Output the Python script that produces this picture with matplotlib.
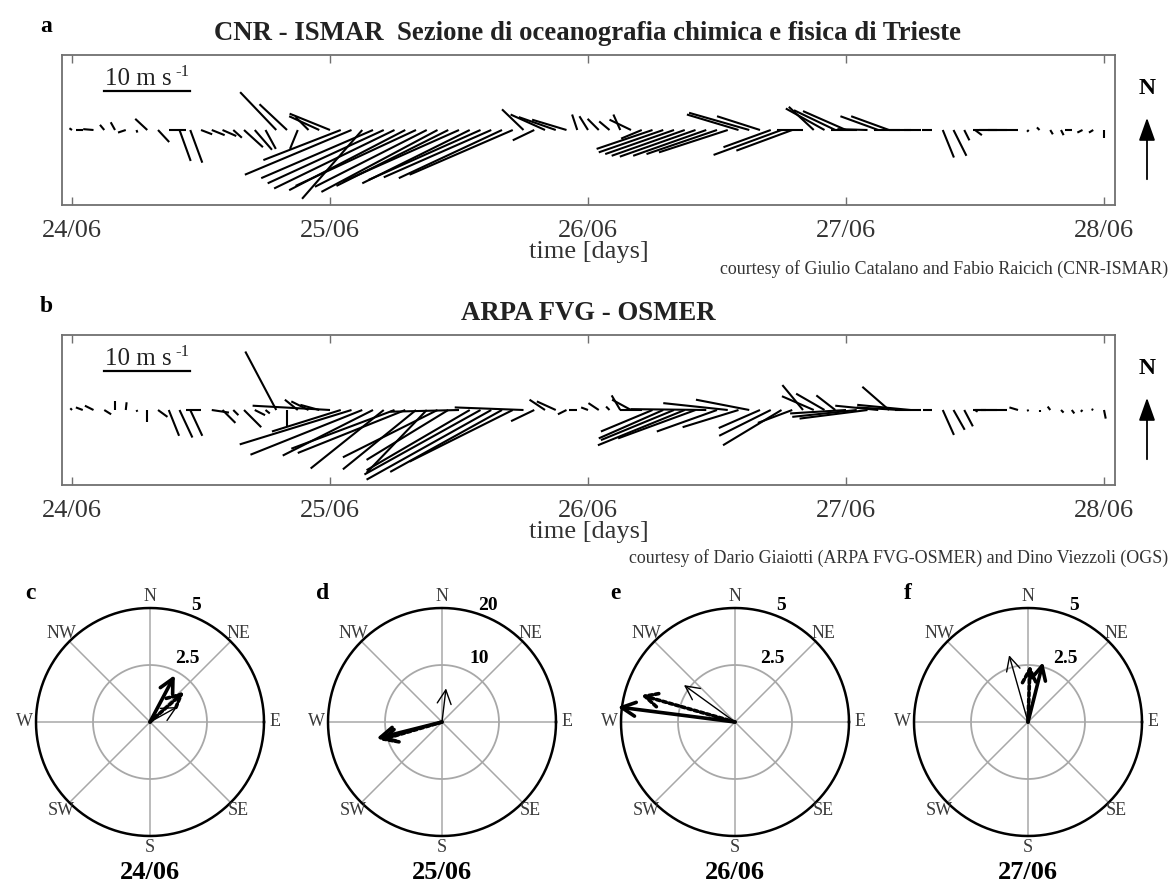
import numpy as np
import matplotlib
matplotlib.use("Agg")
import matplotlib.pyplot as plt
from matplotlib.collections import LineCollection

plt.rcParams['font.family'] = ['Liberation Serif', 'DejaVu Serif']

# hourly wind vectors (m/s, direction the wind blows toward), 24/06 00h -> 28/06 00h
hours = np.arange(97)
u_a = [-0.3, -0.8, -1.2, -0.5, -0.5, -0.9, 0.1, -1.4, 1.3, 2.0, 1.3, 1.4,
       1.3, 1.5, 1.6, 1.0, 2.2, 2.0, 1.2, -4.2, -3.2, -0.9, -1.5, -3.5,
       -4.7, -9.0, -12.4, -7.0, -13.0, -13.5, -14.0, -13.5, -14.0, -13.0, -13.5, -13.0,
       -13.5, -12.5, -13.0, -12.5, -12.0, -12.0, -2.5, -2.5, -4.0, -4.3, -4.0, -0.6,
       -1.0, -1.3, -1.2, -0.8, -2.5, -2.4, -6.5, -7.5, -8.0, -8.5, -8.8, -8.5,
       -8.2, -8.0, -6.0, -7.0, -5.0, -5.5, -7.9, -6.5, -3.0, -2.9, -4.5, -4.8,
       -5.0, -3.0, -3.5, -4.4, -4.4, -3.0, -2.5, -2.0, -1.2, 1.3, 1.5, 0.6,
       0.8, -1.5, -2.0, -2.5, -3.5, -0.2, -0.3, 0.3, 0.3, -0.8, -0.6, -0.5, 0.0]
v_a = [0.2, 0.0, 0.1, 0.6, 0.9, -0.3, -0.3, 1.3, -1.4, 0.0, -3.6, -3.8,
       -0.5, -0.6, -0.7, -0.9, -2.0, -2.3, -2.2, 4.4, 3.0, -2.2, 1.5, 1.6,
       1.9, -3.5, -5.2, -8.0, -5.6, -6.2, -6.8, -7.0, -6.5, -6.6, -7.2, -6.5,
       -6.0, -6.2, -5.8, -5.5, -5.6, -5.2, 2.4, -1.2, 1.8, 1.5, 1.2, 1.8,
       1.6, 1.3, 1.0, 1.8, 1.2, -1.0, -2.2, -2.6, -2.8, -3.0, -3.1, -3.0,
       -2.8, -2.6, 1.8, 2.0, 1.6, -2.0, -2.9, -2.4, 0.0, 2.7, 2.5, 2.3,
       2.2, 0.0, 0.1, 1.6, 1.6, 0.0, 0.0, 0.0, 0.0, -3.2, -3.0, -1.2,
       -0.6, 0.0, 0.0, 0.0, 0.0, -0.2, 0.3, -0.5, -0.6, 0.0, -0.3, -0.3, -0.9]
u_b = [-0.2, -0.8, -1.0, 0.8, 0.0, 0.1, 0.1, 0.0, 1.1, 1.2, 1.5, 1.4,
       -1.7, 2.0, 1.5, 0.6, 2.0, 1.2, 0.5, -3.6, 0.0, -1.5, -2.0, -2.2,
       -9.0, -8.0, -13.0, -13.0, -10.5, -8.5, -12.0, -12.5, -8.5, -7.0, -11.0, -9.5,
       -8.0, -12.0, -13.5, -14.5, -13.0, -12.0, -8.0, -2.7, -1.8, -2.2, -1.0, -1.0,
       -0.8, -1.2, -0.4, -1.0, -2.2, -2.5, -6.0, -7.5, -8.5, -10.1, -9.0, -8.8,
       -7.0, -7.5, -6.5, -6.2, -4.8, -6.0, -6.8, -4.0, -2.4, -3.7, -3.3, -2.2,
       -6.5, -7.5, -7.9, -5.0, -3.1, -5.0, -6.2, -3.0, -1.0, 1.3, 1.3, 1.0,
       0.3, -1.5, -2.5, -3.0, -1.0, -0.2, 0.0, -0.3, 0.3, 0.3, -0.2, -0.2, 0.2]
v_b = [0.2, 0.3, 0.5, -0.5, 1.0, 0.9, -0.2, -1.4, -0.8, -3.0, -3.2, -3.0,
       0.0, -0.3, -1.5, -0.6, -2.0, -0.6, -0.4, 6.8, -1.9, 1.2, 1.0, 0.6,
       0.5, -2.5, -4.0, -5.2, -5.3, -6.8, -4.5, -5.0, -6.9, -7.3, -5.5, -5.8,
       -0.2, -7.0, -7.5, -8.1, -7.2, -6.0, 0.3, -1.3, 1.2, 1.0, -0.5, 0.0,
       0.3, 0.8, 0.4, 1.7, 1.2, 0.0, -2.5, -3.3, -3.5, -4.1, -3.3, 0.1,
       -2.5, 0.8, -2.0, 1.2, -2.1, -3.0, -4.1, -1.5, 2.9, 1.6, 1.9, 1.7,
       -0.4, -0.8, -1.0, 0.5, 2.7, 0.3, 0.6, 0.0, 0.0, -2.9, -2.3, -1.9,
       -0.2, 0.0, 0.0, 0.0, 0.3, -0.1, -0.2, 0.4, -0.3, -0.4, -0.2, 0.1, -1.0]

day_labels = ['24/06', '25/06', '26/06', '27/06', '28/06']

# daily mean vectors for the compass plots (thick solid, thick dotted, thin)
compass_dates = ['24/06', '25/06', '26/06', '27/06']
compass_letters = ['c', 'd', 'e', 'f']
compass_max = [5, 20, 5, 5]
u_solid = [1.09, -11.5, -5.15, 0.66]
v_solid = [2.06, -2.9, 0.66, 2.63]
u_dot = [1.50, -10.9, -4.12, 0.09]
v_dot = [1.33, -3.2, 1.18, 2.50]
u_thin = [1.19, 0.7, -2.24, -0.83]
v_thin = [0.66, 5.9, 1.62, 2.93]

W, H = 1175, 886
fig = plt.figure(figsize=(W / 100, H / 100), dpi=100)
GRAY = '#707070'
K = 1 / 30.0  # days per m/s so that sticks keep true angles


def px_axes(x0, y0, x1, y1):
    return fig.add_axes([x0 / W, 1 - y1 / H, (x1 - x0) / W, (y1 - y0) / H])


def stick_panel(top, letter, title, courtesy, court_dy, u, v):
    ax = px_axes(62, top, 1115, top + 150)
    t = hours / 24.0
    segs = [[(ti, 0), (ti + ui * K, vi)] for ti, ui, vi in zip(t, u, v)]
    ax.add_collection(LineCollection(segs, colors='k', linewidths=1.5))
    ax.set_xlim(-0.0388, 4.0426)
    ax.set_ylim(-8.72, 8.72)
    ax.set_xticks(range(5))
    ax.set_xticklabels(day_labels)
    ax.set_yticks([])
    ax.tick_params(axis='x', direction='in', top=True, length=6, width=1,
                   color=GRAY, labelsize=19, labelcolor='#333333', pad=11)
    for s in ax.spines.values():
        s.set_color(GRAY)
        s.set_linewidth(1.3)
    ax.set_xlabel('time [days]', fontsize=19, color='#333333', labelpad=-1)
    # scale bar
    ax.plot([0.124, 0.124 + 10 * K], [4.53, 4.53], color='k', lw=1.6)
    ax.text(0.128, 5.2, '10 m s', fontsize=18, color='#222222', va='baseline')
    ax.text(0.402, 6.3, '-1', fontsize=12, color='#222222', va='baseline')
    fig.text(46 / W, 1 - (top - 28) / H, letter, fontsize=17, fontweight='bold',
             ha='center', va='center')
    fig.text(588 / W, 1 - (top - 21) / H, title, fontsize=19.3, fontweight='bold',
             ha='center', va='center', color='#222222')
    fig.text(1168 / W, 1 - (top + court_dy) / H, courtesy, fontsize=12.85,
             ha='right', va='center', color='#333333')
    # north arrow
    fig.text(1147 / W, 1 - (top + 33) / H, 'N', fontsize=17, fontweight='bold',
             ha='center', va='center')
    fig.add_artist(matplotlib.patches.FancyArrowPatch(
        (1147 / W, 1 - (top + 127) / H), (1147 / W, 1 - (top + 60) / H),
        transform=fig.transFigure, arrowstyle='-|>,head_length=0.7,head_width=0.25',
        mutation_scale=20, color='k', lw=1.3))


stick_panel(55, 'a', 'CNR - ISMAR  Sezione di oceanografia chimica e fisica di Trieste',
            'courtesy of Giulio Catalano and Fabio Raicich (CNR-ISMAR)', 214, u_a, v_a)
stick_panel(335, 'b', 'ARPA FVG - OSMER',
            'courtesy of Dario Giaiotti (ARPA FVG-OSMER) and Dino Viezzoli (OGS)', 223,
            u_b, v_b)

# compass roses
centers = [150, 442, 735, 1028]
CY = 722
RP = 114.0
lim = 140 / RP
th = np.linspace(0, 2 * np.pi, 361)
dirs = ['E', 'NE', 'N', 'NW', 'W', 'SW', 'S', 'SE']
for i, cx in enumerate(centers):
    ax = px_axes(cx - 140, CY - 140, cx + 140, CY + 140)
    ax.set_xlim(-lim, lim)
    ax.set_ylim(-lim, lim)
    ax.set_aspect('equal')
    ax.axis('off')
    for j in range(8):
        a = np.deg2rad(45 * j)
        ax.plot([0, np.cos(a)], [0, np.sin(a)], color='#a8a8a8', lw=1.1, zorder=1)
        ax.text(1.10 * np.cos(a), 1.10 * np.sin(a), dirs[j], fontsize=13,
                color='#3a3a3a', ha='center', va='center', zorder=3)
    ax.plot(0.5 * np.cos(th), 0.5 * np.sin(th), color='#a8a8a8', lw=1.3, zorder=1)
    ax.plot(np.cos(th), np.sin(th), color='k', lw=1.8, zorder=2)
    R = compass_max[i]
    ax.text(0.40, 1.02, '%g' % R, fontsize=14, fontweight='bold', ha='center', va='center')
    ax.text(0.33, 0.56, '%g' % (R / 2), fontsize=14, fontweight='bold',
            ha='center', va='center')
    ax.text(-1.05, 1.13, compass_letters[i], fontsize=17, fontweight='bold',
            ha='center', va='center')
    ax.text(0, -1.32, compass_dates[i], fontsize=19, fontweight='bold',
            ha='center', va='center')
    arrows = [(u_thin[i], v_thin[i], 1.0, '-'),
              (u_dot[i], v_dot[i], 2.6, (0, (1, 0.8))),
              (u_solid[i], v_solid[i], 2.6, '-')]
    for uu, vv, lw, ls in arrows:
        ax.annotate('', xy=(uu / R, vv / R), xytext=(0, 0),
                    arrowprops=dict(arrowstyle='->,head_length=0.5,head_width=0.25',
                                    mutation_scale=20, lw=lw, ls=ls, color='k',
                                    shrinkA=0, shrinkB=0), zorder=4)

fig.savefig('out.png', dpi=100, facecolor='white')
